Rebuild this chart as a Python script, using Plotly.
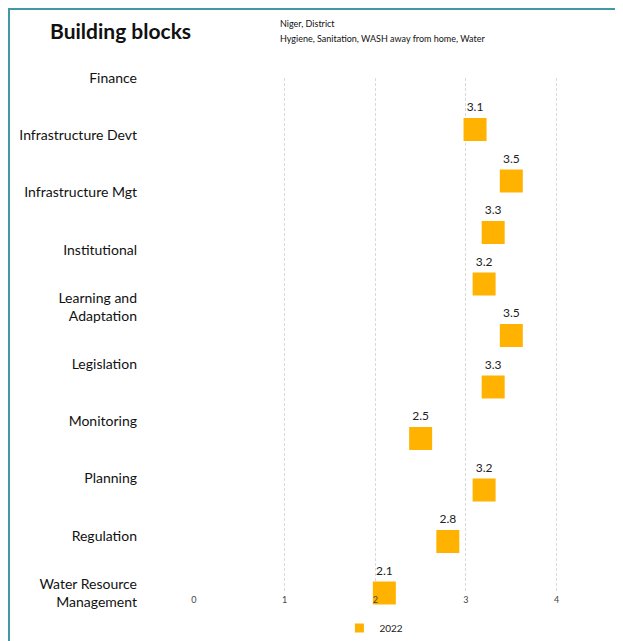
import plotly.graph_objects as go

blocks = ["Finance", "Infrastructure Devt", "Infrastructure Mgt", "Institutional",
          "Learning and<br>Adaptation", "Legislation", "Monitoring", "Planning",
          "Regulation", "Water Resource<br>Management"]
scores_2022 = [3.1, 3.5, 3.3, 3.2, 3.5, 3.3, 2.5, 3.2, 2.8, 2.1]
x_ticks = [0, 1, 2, 3, 4]

orange = "#FFB300"
font = "Lato, 'Open Sans', sans-serif"

# page body adds an 8px offset, so the figure is sized to fit the window
W, H = 615, 633
L, R, T, B = 185, 21, 70, 48
pw, ph = W - L - R, H - T - B

fig = go.Figure()
fig.add_trace(go.Scatter(
    x=scores_2022, y=blocks, mode="markers+text",
    marker=dict(symbol="square", size=23, color=orange),
    text=[f"{v:.1f}" for v in scores_2022], textposition="top center",
    textfont=dict(family=font, size=12, color="#222"),
    showlegend=False, hoverinfo="x+y", cliponaxis=False,
))
# category labels sit on their own axis (spaced differently from the markers)
fig.add_trace(go.Scatter(
    x=[None] * len(blocks), y=blocks, yaxis="y2", mode="markers",
    showlegend=False, hoverinfo="skip",
))
# small legend swatch
fig.add_trace(go.Scatter(
    x=[None], y=[None], mode="markers", name="2022",
    marker=dict(symbol="square", size=9, color=orange),
))

fig.update_layout(
    width=W, height=H,
    margin=dict(l=L, r=R, t=T, b=B, autoexpand=False),
    plot_bgcolor="white", paper_bgcolor="white",
    font=dict(family=font),
    title=dict(text="<b>Building blocks</b>", x=42 / W, xanchor="left",
               y=1 - 24 / H, yanchor="middle",
               font=dict(family=font, size=21, color="#111")),
    xaxis=dict(range=[-0.01, 4.5], tickvals=x_ticks, showgrid=True,
               gridcolor="#D9D9D9", griddash="3px,2px", gridwidth=1,
               zeroline=False, showline=False,
               tickfont=dict(size=9, color="#444")),
    yaxis=dict(type="category", range=[9, -1], showticklabels=False,
               showgrid=False, zeroline=False, showline=False),
    yaxis2=dict(type="category", overlaying="y", side="left", anchor="x", range=[9, 0],
                showgrid=False, zeroline=False, showline=False,
                ticklabelstandoff=55,
                tickfont=dict(family=font, size=14, color="#111")),
    legend=dict(orientation="h", x=0.358, xanchor="left",
                yref="container", y=1 - 620 / H, yanchor="middle",
                font=dict(size=10, color="#222"), itemwidth=30),
    annotations=[
        dict(text="Niger, District", xref="paper", yref="paper",
             x=(278 - 193) / pw, y=1 + 62 / ph, xanchor="left", yanchor="top",
             showarrow=False, font=dict(size=9, color="#111")),
        dict(text="Hygiene, Sanitation, WASH away from home, Water", xref="paper", yref="paper",
             x=(278 - 193) / pw, y=1 + 47 / ph, xanchor="left", yanchor="top",
             showarrow=False, font=dict(size=9, color="#111")),
    ],
    shapes=[dict(type="rect", xref="paper", yref="paper",
                 x0=(1 - L) / pw, x1=1.2, y0=-0.2, y1=1 + (T - 1) / ph,
                 line=dict(color="#4397A6", width=2), layer="below")],
)

fig.write_html("out.html")
